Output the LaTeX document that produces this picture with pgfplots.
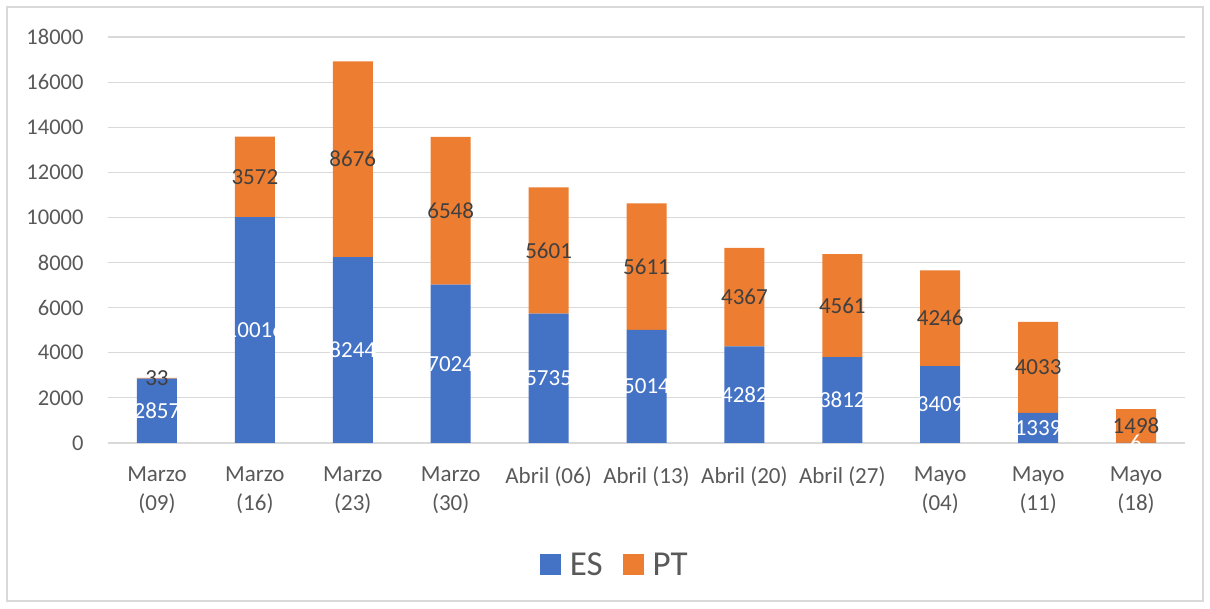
\documentclass[border=0pt]{standalone}
\usepackage{fontspec}
\setmainfont{Carlito}
\usepackage{pgfplots}
\usepackage{pgfplotstable}
\pgfplotsset{compat=1.18}
\definecolor{esblue}{HTML}{4472C4}
\definecolor{ptorange}{HTML}{ED7D31}
\definecolor{gridgray}{HTML}{D9D9D9}
\definecolor{ticktext}{HTML}{595959}
\definecolor{labeltext}{HTML}{404040}

\pgfplotstableread{
x ES PT
0 2857 33
1 10016 3572
2 8244 8676
3 7024 6548
4 5735 5601
5 5014 5611
6 4282 4367
7 3812 4561
8 3409 4246
9 1339 4033
10 6 1498
}\data

\begin{document}
\begin{tikzpicture}[x=1pt,y=1pt]
\useasboundingbox (0,0) rectangle (1210,608);
\draw[gridgray, line width=1.2pt] (7,7) rectangle (1203,601);
\pgfplotsset{base/.style={scale only axis, width=1077pt, height=406pt,
  xmin=-0.5, xmax=10.5, ymin=0, ymax=18000,
  at={(108pt,165pt)}, anchor=south west}}
\begin{axis}[base, ybar stacked, bar width=40pt,
  axis x line*=bottom, axis y line*=left,
  y axis line style={draw=none},
  x axis line style={gridgray, line width=1.2pt, -},
  ymajorgrids, grid style={gridgray, line width=1.2pt},
  major tick length=0pt,
  scaled y ticks=false,
  ytick={0,2000,...,18000},
  xtick={0,...,10},
  xticklabels={{Marzo\\(09)},{Marzo\\(16)},{Marzo\\(23)},{Marzo\\(30)},{Abril (06)},{Abril (13)},{Abril (20)},{Abril (27)},{Mayo\\(04)},{Mayo\\(11)},{Mayo\\(18)}},
  xticklabel style={align=center, font=\fontsize{23}{29}\selectfont, text=ticktext, yshift=-20pt},
  yticklabel style={font=\fontsize{22.5}{27}\selectfont, text=ticktext, xshift=-21pt},
  /pgf/number format/1000 sep={},
  /pgf/number format/assume math mode=true,
  legend style={at={(0.4705,-0.300)}, anchor=center, draw=none, legend columns=2,
    font=\fontsize{35}{40}\selectfont, text=ticktext,
    /tikz/every even column/.append style={column sep=18pt}},
  legend image code/.code={\fill[#1] (0pt,-10.5pt) rectangle (21pt,10.5pt); \path (28pt,0pt);},
]
\addplot[fill=esblue, draw=none] table[x=x, y=ES] {\data};
\addplot[fill=ptorange, draw=none] table[x=x, y=PT] {\data};
\legend{ES, PT}
\end{axis}
\begin{axis}[base, hide axis]
\addplot[draw=none, mark=none, nodes near coords, point meta=explicit symbolic,
  nodes near coords style={text=white, font=\fontsize{23}{27}\selectfont, anchor=center}]
  table[x=x, y expr=\thisrow{ES}/2, meta=ES] {\data};
\addplot[draw=none, mark=none, nodes near coords, point meta=explicit symbolic,
  nodes near coords style={text=labeltext, font=\fontsize{23}{27}\selectfont, anchor=center}]
  table[x=x, y expr=\thisrow{ES}+\thisrow{PT}/2, meta=PT] {\data};
\end{axis}
\end{tikzpicture}
\end{document}
